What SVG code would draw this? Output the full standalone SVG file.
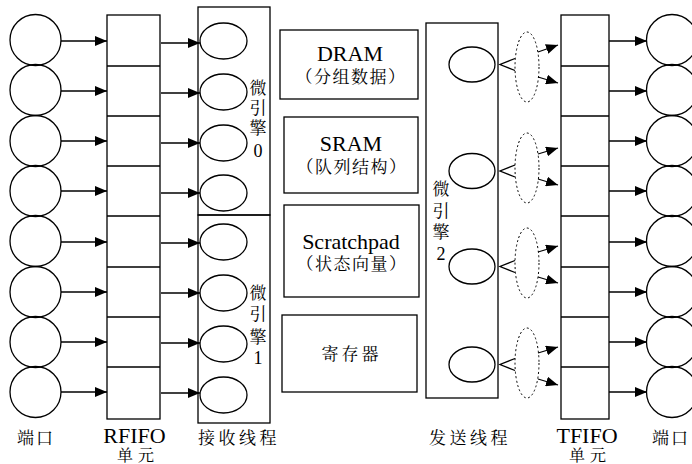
<svg xmlns="http://www.w3.org/2000/svg" width="692" height="464" viewBox="0 0 692 464">
<style>
.s{fill:none;stroke:#000;stroke-width:1.3}
.a{stroke:#000;stroke-width:1.3;fill:none;marker-end:url(#ah)}
.d{fill:none;stroke:#000;stroke-width:1;stroke-dasharray:2 2.5}
.t{font-family:"Liberation Serif","Noto Serif CJK SC","Noto Sans CJK SC",serif;fill:#000;text-anchor:middle}
.lat{font-size:22px}
.cjk{font-size:17px}
.par{font-size:17px;letter-spacing:1.5px}
</style>
<defs>
<marker id="ah" markerUnits="userSpaceOnUse" markerWidth="13" markerHeight="10" refX="12" refY="5" orient="auto">
<path d="M0,0 L12,5 L0,10 z" fill="#000"/>
</marker>
</defs>
<g id="ports-left">
<circle class="s" cx="35.5" cy="40" r="25.5"/>
<circle class="s" cx="35.5" cy="90" r="25.5"/>
<circle class="s" cx="35.5" cy="141" r="25.5"/>
<circle class="s" cx="35.5" cy="191" r="25.5"/>
<circle class="s" cx="35.5" cy="241" r="25.5"/>
<circle class="s" cx="35.5" cy="292" r="25.5"/>
<circle class="s" cx="35.5" cy="342" r="25.5"/>
<circle class="s" cx="35.5" cy="392" r="25.5"/>
</g>
<g id="rfifo">
<rect class="s" x="107" y="15" width="53" height="404"/>
<path class="s" d="M107,66H160M107,116H160M107,166H160M107,216H160M107,267H160M107,317H160M107,367H160"/>
</g>
<g id="engine0">
<rect class="s" x="198" y="7" width="72" height="208"/>
<ellipse class="s" cx="223.5" cy="41" rx="23.5" ry="18"/>
<ellipse class="s" cx="223.5" cy="92" rx="23.5" ry="18"/>
<ellipse class="s" cx="223.5" cy="143" rx="23.5" ry="18"/>
<ellipse class="s" cx="223.5" cy="193" rx="23.5" ry="18"/>
<text class="t cjk" x="258" y="93.5">微</text>
<text class="t cjk" x="258" y="114">引</text>
<text class="t cjk" x="258" y="133.5">擎</text>
<text class="t" style="font-size:18px" x="258" y="157">0</text>
</g>
<g id="engine1">
<rect class="s" x="198" y="215" width="72" height="208"/>
<ellipse class="s" cx="223.5" cy="242" rx="23.5" ry="18"/>
<ellipse class="s" cx="223.5" cy="293" rx="23.5" ry="18"/>
<ellipse class="s" cx="223.5" cy="344" rx="23.5" ry="18"/>
<ellipse class="s" cx="223.5" cy="395" rx="23.5" ry="18"/>
<text class="t cjk" x="258" y="298.5">微</text>
<text class="t cjk" x="258" y="319.5">引</text>
<text class="t cjk" x="258" y="342.5">擎</text>
<text class="t" style="font-size:18px" x="258" y="364">1</text>
</g>
<g id="dram">
<rect class="s" x="280" y="30" width="138" height="69"/>
<text class="t lat" x="350" y="61">DRAM</text>
<text class="t par" x="351" y="82.5">（分组数据）</text>
</g>
<g id="sram">
<rect class="s" x="284" y="117" width="134" height="76"/>
<text class="t lat" x="351" y="151">SRAM</text>
<text class="t par" x="352" y="172.5">（队列结构）</text>
</g>
<g id="scratchpad">
<rect class="s" x="284" y="205" width="135" height="92"/>
<text class="t lat" x="351" y="249">Scratchpad</text>
<text class="t par" x="352" y="269.5">（状态向量）</text>
</g>
<g id="register">
<rect class="s" x="282" y="315" width="135" height="77"/>
<text class="t cjk" x="351.5" y="359.5" style="letter-spacing:3px">寄存器</text>
</g>
<g id="engine2">
<rect class="s" x="426" y="23" width="72" height="375"/>
<ellipse class="s" cx="472" cy="64.5" rx="23" ry="17.5"/>
<ellipse class="s" cx="472" cy="171" rx="23" ry="17.5"/>
<ellipse class="s" cx="472" cy="266.5" rx="23" ry="17.5"/>
<ellipse class="s" cx="472" cy="364.5" rx="23" ry="17.5"/>
<text class="t cjk" x="441" y="194.5">微</text>
<text class="t cjk" x="441" y="216.5">引</text>
<text class="t cjk" x="441" y="237.5">擎</text>
<text class="t" style="font-size:18px" x="441" y="260">2</text>
</g>
<g id="splits">
<polyline class="s" points="515,58.5 500,64.5 515,70.5"/>
<polyline class="s" points="515,165 500,171 515,177"/>
<polyline class="s" points="515,260.5 500,266.5 515,272.5"/>
<polyline class="s" points="515,358.5 500,364.5 515,370.5"/>
<ellipse class="d" cx="527" cy="67" rx="12" ry="35"/>
<ellipse class="d" cx="527" cy="168" rx="12" ry="35"/>
<ellipse class="d" cx="527" cy="263" rx="12" ry="35"/>
<ellipse class="d" cx="527" cy="363" rx="12" ry="35"/>
</g>
<g id="tfifo">
<rect class="s" x="561" y="15" width="48" height="404"/>
<path class="s" d="M561,66H609M561,116H609M561,166H609M561,216H609M561,267H609M561,317H609M561,367H609"/>
</g>
<g id="ports-right">
<circle class="s" cx="672" cy="40" r="25.5"/>
<circle class="s" cx="672" cy="90" r="25.5"/>
<circle class="s" cx="672" cy="141" r="25.5"/>
<circle class="s" cx="672" cy="191" r="25.5"/>
<circle class="s" cx="672" cy="241" r="25.5"/>
<circle class="s" cx="672" cy="292" r="25.5"/>
<circle class="s" cx="672" cy="342" r="25.5"/>
<circle class="s" cx="672" cy="392" r="25.5"/>
</g>
<g id="connectors">
<path class="a" d="M61,41H107"/>
<path class="a" d="M61,91H107"/>
<path class="a" d="M61,141H107"/>
<path class="a" d="M61,191H107"/>
<path class="a" d="M61,242H107"/>
<path class="a" d="M61,292H107"/>
<path class="a" d="M61,342H107"/>
<path class="a" d="M61,392H107"/>
<path class="a" d="M161,43H200"/>
<path class="a" d="M161,93H200"/>
<path class="a" d="M161,143H200"/>
<path class="a" d="M161,193H200"/>
<path class="a" d="M161,243H200"/>
<path class="a" d="M161,293H200"/>
<path class="a" d="M161,343H200"/>
<path class="a" d="M161,393H200"/>
<path class="a" d="M538,52L558,45"/>
<path class="a" d="M538,77L558,83"/>
<path class="a" d="M538,154L558,148"/>
<path class="a" d="M538,179L558,185"/>
<path class="a" d="M538,252L558,246"/>
<path class="a" d="M538,277L558,283"/>
<path class="a" d="M538,353L558,347"/>
<path class="a" d="M538,379L558,385"/>
<path class="a" d="M609,41H647"/>
<path class="a" d="M609,91H647"/>
<path class="a" d="M609,141H647"/>
<path class="a" d="M609,191H647"/>
<path class="a" d="M609,242H647"/>
<path class="a" d="M609,292H647"/>
<path class="a" d="M609,342H647"/>
<path class="a" d="M609,392H647"/>
</g>
<g id="labels">
<text class="t cjk" x="36" y="443.5" style="letter-spacing:2px">端口</text>
<text class="t lat" x="134.5" y="443">RFIFO</text>
<text class="t" x="138" y="460.5" style="font-size:16px;letter-spacing:5px">单元</text>
<text class="t cjk" x="239" y="443.5" style="letter-spacing:3.5px">接收线程</text>
<text class="t cjk" x="470" y="443.5" style="letter-spacing:3.5px">发送线程</text>
<text class="t lat" x="587" y="443">TFIFO</text>
<text class="t" x="590" y="460.5" style="font-size:16px;letter-spacing:5px">单元</text>
<text class="t cjk" x="671" y="443.5" style="letter-spacing:2px">端口</text>
</g>
</svg>
